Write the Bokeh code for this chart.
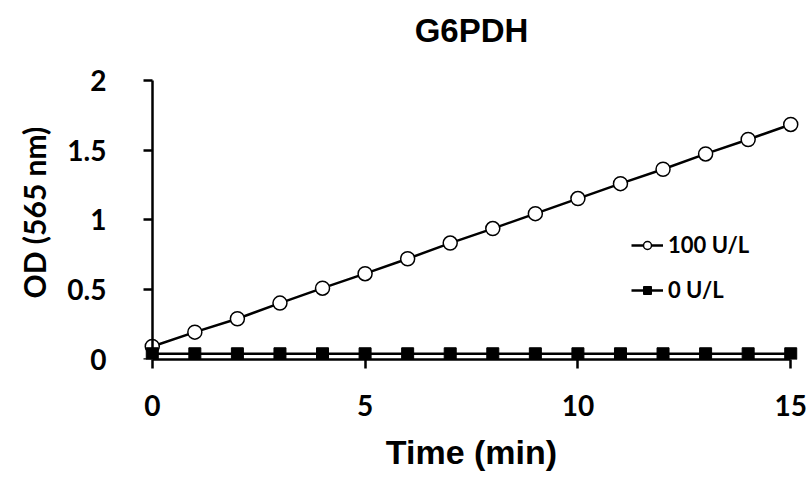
from bokeh.plotting import figure
from bokeh.models import Range1d, Legend, LegendItem, FixedTicker, LinearAxis, Label, Title
from bokeh.embed import file_html
from bokeh.resources import INLINE

# ---- data ----
time_min = [0, 1, 2, 3, 4, 5, 6, 7, 8, 9, 10, 11, 12, 13, 14, 15]
od_100 = [0.093, 0.196, 0.292, 0.404, 0.511, 0.615, 0.722, 0.834,
          0.938, 1.045, 1.153, 1.260, 1.363, 1.473, 1.576, 1.684]
od_0 = [0.041, 0.041, 0.041, 0.041, 0.041, 0.041, 0.041, 0.041,
        0.041, 0.041, 0.041, 0.041, 0.041, 0.041, 0.041, 0.041]
x_ticks = [0, 5, 10, 15]
y_ticks = [0, 0.5, 1, 1.5, 2]
y_tick_labels = ["0", "0.5", "1", "1.5", "2"]
series_labels = ["100 U/L", "0 U/L"]
chart_title = "G6PDH"
x_label = "Time (min)"
y_label = "OD (565 nm)"

# y range extends above 2 to leave room for the title inside the frame
p = figure(width=812, height=480, title_location=None,
           x_range=Range1d(-0.3, 15.3), y_range=Range1d(0, 2.572),
           output_backend="svg", toolbar_location=None,
           min_border_left=139, min_border_right=9,
           min_border_top=0, min_border_bottom=121)
p.outline_line_color = None
p.xgrid.visible = False
p.ygrid.visible = False
p.background_fill_color = "white"
p.border_fill_color = "white"

title_label = Label(x=7.5, y=2.36, text=chart_title, text_align="center",
                    text_baseline="middle", text_font="Liberation Sans",
                    text_font_style="bold", text_font_size="33px",
                    text_color="black")
p.add_layout(title_label)

# series
l1 = p.line(time_min, od_100, line_color="black", line_width=2.5)
s1 = p.scatter(time_min, od_100, marker="circle", size=14,
               fill_color="white", line_color="black", line_width=1.5)
l0 = p.line(time_min, od_0, line_color="black", line_width=2.5)
s0 = p.scatter(time_min, od_0, marker="square", size=12,
               fill_color="black", line_color="black", line_width=1)

# x axis
xa = p.xaxis[0]
xa.ticker = FixedTicker(ticks=x_ticks)
xa.bounds = (0, 15)
xa.axis_line_width = 2.5
xa.major_tick_line_width = 2.5
xa.major_tick_out = 9
xa.major_tick_in = 0
xa.minor_tick_line_color = None
xa.major_label_text_font = "Lato"
xa.major_label_text_font_style = "bold"
xa.major_label_text_font_size = "28px"
xa.major_label_text_color = "black"
xa.major_label_standoff = 26
xa.axis_label = x_label
xa.axis_label_text_font = "Liberation Sans"
xa.axis_label_text_font_style = "bold"
xa.axis_label_text_font_size = "34px"
xa.axis_label_text_color = "black"
xa.axis_label_standoff = 14

# y axis tick labels (at frame edge, no line / ticks)
ya = p.yaxis[0]
ya.ticker = FixedTicker(ticks=y_ticks)
ya.major_label_overrides = {t: s for t, s in zip(y_ticks, y_tick_labels)}
ya.axis_line_color = None
ya.major_tick_line_color = None
ya.major_tick_out = 0
ya.major_tick_in = 0
ya.minor_tick_line_color = None
ya.major_label_text_font = "Lato"
ya.major_label_text_font_style = "bold"
ya.major_label_text_font_size = "28px"
ya.major_label_text_color = "black"
ya.major_label_standoff = 33

# y axis line and ticks at x = 0
yline = LinearAxis(fixed_location=0, ticker=FixedTicker(ticks=y_ticks),
                   bounds=(0, 2),
                   axis_line_width=2.5, axis_line_color="black",
                   major_tick_line_width=2.5,
                   major_tick_out=9, major_tick_in=0,
                   minor_tick_line_color=None, major_label_text_color=None)
p.add_layout(yline, "left")

# y axis title, placed along the 0..2 span
ytitle = Title(text=y_label, align="left", offset=61, standoff=26,
               text_font="Lato", text_font_style="bold",
               text_font_size="30px", text_color="black")
p.add_layout(ytitle, "left")

legend = Legend(items=[LegendItem(label=series_labels[0], renderers=[l1, s1]),
                       LegendItem(label=series_labels[1], renderers=[l0, s0])],
                location=(492, 56), padding=0, margin=0, spacing=18,
                glyph_width=32, glyph_height=20, label_standoff=5,
                border_line_color=None, background_fill_alpha=0,
                label_text_font="Lato", label_text_font_style="bold",
                label_text_font_size="22px", label_text_color="black")
p.add_layout(legend)

open("out.html", "w").write(file_html(p, INLINE))
